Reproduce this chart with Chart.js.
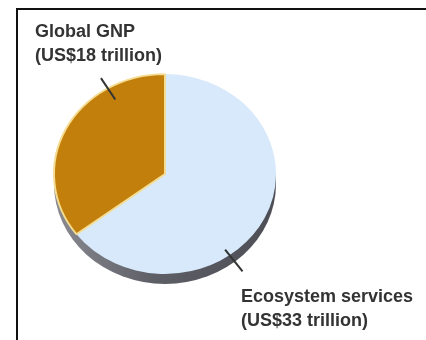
<!DOCTYPE html>
<html>
<head>
<meta charset="utf-8">
<script src="https://cdn.jsdelivr.net/npm/chart.js@4/dist/chart.umd.min.js"></script>
<style>
  html, body { margin: 0; padding: 0; background: #fff; overflow: hidden; }
  #wrap { position: relative; width: 426px; height: 340px; }
  #frame { position: absolute; left: 16px; top: 8px; width: 600px; height: 600px;
           border: 2px solid #111; box-sizing: border-box; pointer-events: none; }
  canvas { position: absolute; left: 0; top: 0; }
</style>
</head>
<body>
<div id="wrap">
  <div id="frame"></div>
  <canvas id="c" width="426" height="340"></canvas>
</div>
<script>
// Global value of ecosystem services vs. global GNP (US$ trillion per year)
const categories = ['Ecosystem services', 'Global GNP'];
const valuesTrillionUSD = [33, 18];
const labelLines = [
  ['Ecosystem services', '(US$33 trillion)'],
  ['Global GNP', '(US$18 trillion)']
];

const sliceColors = ['#d7e9fa', '#c27f0c'];
const sliceBorders = ['#d7e9fa', '#f4dd92'];

// Perspective tilt of the disc and depth of its side wall
const TILT = 0.9;
const DEPTH = 10;

// Callout placement: leader angle (deg, clockwise from 12 o'clock),
// inner/outer reach as a fraction of the radius, and text anchor.
const callouts = [
  { angle: 144.4, r0: 0.93, r1: 1.2, tx: 241, ty: 302 },
  { angle: 329, r0: 0.87, r1: 1.12, tx: 35, ty: 37 }
];

const tiltPlugin = {
  id: 'tilt',
  beforeDatasetsDraw(chart) {
    const ctx = chart.ctx;
    const arc = chart.getDatasetMeta(0).data[0];
    const { x, y, outerRadius } = arc;
    ctx.save();
    ctx.translate(x, y);
    ctx.scale(1, TILT);
    ctx.translate(-x, -y);
    // side wall of the disc
    const g = ctx.createLinearGradient(x - outerRadius, 0, x + outerRadius, 0);
    g.addColorStop(0, '#8a8a92');
    g.addColorStop(0.45, '#5e5e67');
    g.addColorStop(1, '#4e4e57');
    ctx.beginPath();
    ctx.arc(x, y + DEPTH / TILT, outerRadius, 0, Math.PI * 2);
    ctx.fillStyle = g;
    ctx.fill();
  },
  afterDatasetsDraw(chart) {
    const ctx = chart.ctx;
    ctx.restore();
    const arc = chart.getDatasetMeta(0).data[0];
    const { x, y, outerRadius } = arc;
    const pt = (deg, f) => {
      const a = deg * Math.PI / 180;
      return [x + Math.sin(a) * outerRadius * f, y - Math.cos(a) * outerRadius * f * TILT];
    };
    ctx.save();
    ctx.strokeStyle = '#333';
    ctx.lineWidth = 2;
    ctx.fillStyle = '#333';
    ctx.font = 'bold 18px "Liberation Sans", Arial, sans-serif';
    ctx.textBaseline = 'alphabetic';
    ctx.textAlign = 'left';
    callouts.forEach((c, i) => {
      const p0 = pt(c.angle, c.r0), p1 = pt(c.angle, c.r1);
      ctx.beginPath();
      ctx.moveTo(p0[0], p0[1]);
      ctx.lineTo(p1[0], p1[1]);
      ctx.stroke();
      labelLines[i].forEach((line, k) => ctx.fillText(line, c.tx, c.ty + k * 24));
    });
    ctx.restore();
  }
};

new Chart(document.getElementById('c'), {
  type: 'pie',
  data: {
    labels: categories,
    datasets: [{
      data: valuesTrillionUSD,
      backgroundColor: sliceColors,
      borderColor: sliceBorders,
      borderWidth: [0, 2]
    }]
  },
  options: {
    responsive: false,
    animation: false,
    layout: { padding: { left: 53, right: 149, top: 62, bottom: 54 } },
    plugins: { legend: { display: false }, tooltip: { enabled: false } }
  },
  plugins: [tiltPlugin]
});
</script>
</body>
</html>
